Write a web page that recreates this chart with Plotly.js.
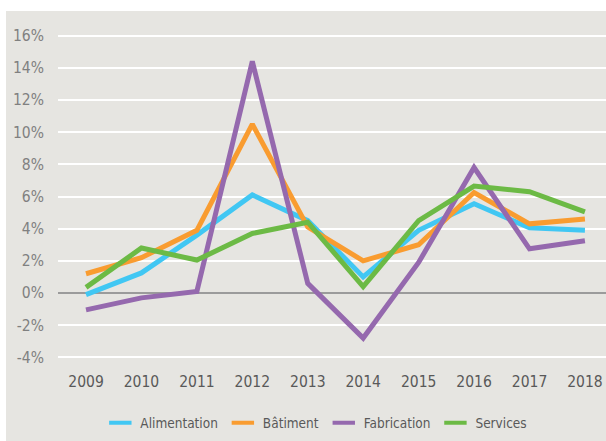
<!DOCTYPE html>
<html>
<head>
<meta charset="utf-8">
<script src="https://cdn.plot.ly/plotly-3.0.1.min.js"></script>
<style>html,body{margin:0;padding:0;background:#fff;}#chart{width:606px;height:441px;}</style>
</head>
<body>
<div id="chart"></div>
<script>
const years = ['2009','2010','2011','2012','2013','2014','2015','2016','2017','2018'];
const alimentation = [-0.1, 1.25, 3.6, 6.1, 4.5, 1.0, 3.9, 5.55, 4.05, 3.9];
const batiment     = [1.2, 2.2, 3.9, 10.5, 4.1, 2.0, 3.0, 6.25, 4.3, 4.6];
const fabrication  = [-1.05, -0.3, 0.1, 14.4, 0.6, -2.8, 1.9, 7.8, 2.75, 3.25];
const services     = [0.35, 2.8, 2.05, 3.7, 4.4, 0.4, 4.5, 6.65, 6.3, 5.05];
const seriesNames  = ['Alimentation', 'Bâtiment', 'Fabrication', 'Services'];
const yTicks = [-4, -2, 0, 2, 4, 6, 8, 10, 12, 14, 16];
const yTickText = yTicks.map(v => v + '%');

const colors = ['#41C7F3', '#F99C30', '#9569AE', '#6CBA45'];
const values = [alimentation, batiment, fabrication, services];
const FONT = '"DejaVu Sans Condensed", "Liberation Sans Narrow", sans-serif';

const traces = [];
values.forEach((v, i) => {
  traces.push({
    x: years, y: v, type: 'scatter', mode: 'lines', name: seriesNames[i],
    line: {color: colors[i], width: 5},
    showlegend: false, hoverinfo: 'skip'
  });
});
values.forEach((v, i) => {
  traces.push({
    x: [null], y: [null], type: 'scatter', mode: 'markers', name: seriesNames[i],
    marker: {symbol: 'line-ew', size: 18, color: colors[i], line: {color: colors[i], width: 4}},
    showlegend: true, hoverinfo: 'skip'
  });
});

// plot area in pixels: x 58..606, y 34..359
const L = 58, T = 34, W = 548, H = 325;
const px = p => (p - L) / W;
const py = p => (T + H - p) / H;

const layout = {
  width: 606, height: 441,
  margin: {l: L, r: 0, t: T, b: 441 - T - H, pad: 0},
  paper_bgcolor: '#E6E5E1',
  plot_bgcolor: '#E6E5E1',
  font: {family: FONT, color: '#7F7F7F', size: 15},
  xaxis: {
    type: 'category',
    range: [-0.505, 9.38],
    showgrid: false, zeroline: false, showline: false,
    ticks: 'outside', ticklen: 8, tickcolor: 'rgba(0,0,0,0)',
    tickfont: {family: FONT, size: 15.5, color: '#595959'},
    fixedrange: true
  },
  yaxis: {
    range: [-4.1, 16.1],
    tickvals: yTicks, ticktext: yTickText,
    showgrid: true, gridcolor: '#FFFFFF', gridwidth: 2,
    zeroline: true, zerolinecolor: '#9B9B9B', zerolinewidth: 2,
    showline: false,
    ticks: 'outside', ticklen: 10, tickcolor: 'rgba(0,0,0,0)',
    tickfont: {family: FONT, size: 15.5, color: '#808080'},
    fixedrange: true
  },
  legend: {
    orientation: 'h', x: 0.522, xanchor: 'center', xref: 'container',
    y: 1 - 423 / 441, yanchor: 'middle', yref: 'container',
    font: {family: FONT, size: 13.5, color: '#595959'},
    bgcolor: 'rgba(0,0,0,0)', itemwidth: 30, tracegroupgap: 0
  },
  shapes: [
    {type: 'rect', xref: 'paper', yref: 'paper', x0: px(-5), x1: px(620), y0: py(11), y1: py(-5),
     fillcolor: '#FFFFFF', line: {width: 0}, layer: 'above'},
    {type: 'rect', xref: 'paper', yref: 'paper', x0: px(-5), x1: px(6), y0: py(450), y1: py(-5),
     fillcolor: '#FFFFFF', line: {width: 0}, layer: 'above'}
  ]
};

Plotly.newPlot('chart', traces, layout, {staticPlot: true, displayModeBar: false});
</script>
</body>
</html>
